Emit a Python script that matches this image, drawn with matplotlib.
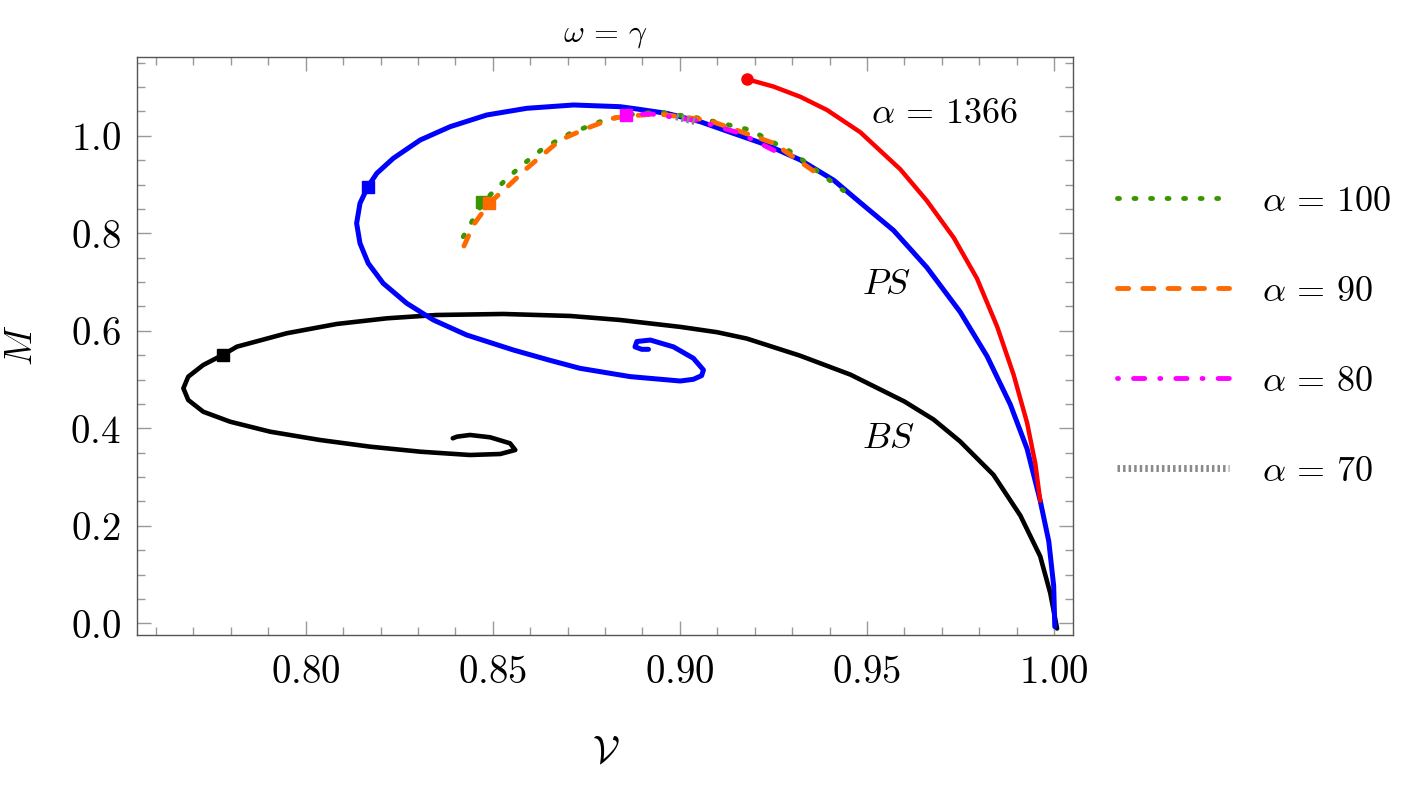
import matplotlib
matplotlib.use('Agg')
import matplotlib.pyplot as plt
from matplotlib.ticker import MultipleLocator, FuncFormatter
from matplotlib.lines import Line2D

plt.rcParams['mathtext.fontset'] = 'cm'
plt.rcParams['font.family'] = 'serif'

# boson star branch (BS), from inner spiral end out to the origin
bs_x = [0.8393, 0.8404, 0.8439, 0.8493, 0.8546, 0.8560, 0.8520, 0.8439, 0.8306, 0.8172, 0.8038,
        0.7905, 0.7798, 0.7726, 0.7686, 0.7673, 0.7686, 0.7726, 0.7778, 0.7816, 0.7949, 0.8083,
        0.8217, 0.8350, 0.8528, 0.8707, 0.8840, 0.9001, 0.9100, 0.9179, 0.9321, 0.9456, 0.9600,
        0.9678, 0.9749, 0.9838, 0.9910, 0.9963, 0.9990, 1.0008]
bs_y = [0.3795, 0.3828, 0.3863, 0.3815, 0.3692, 0.3555, 0.3473, 0.3452, 0.3520, 0.3623, 0.3760,
        0.3930, 0.4135, 0.4340, 0.4580, 0.4820, 0.5059, 0.5298, 0.5504, 0.5674, 0.5949, 0.6140,
        0.6256, 0.6324, 0.6345, 0.6304, 0.6222, 0.6080, 0.5970, 0.5840, 0.5490, 0.5100, 0.4550,
        0.4180, 0.3730, 0.3046, 0.2209, 0.1374, 0.0615, -0.0107]

# Proca star branch (PS), from the origin into its spiral
ps_x = [1.0002, 0.9999, 0.9986, 0.9963, 0.9928, 0.9883, 0.9821, 0.9749, 0.9660, 0.9571, 0.9482,
        0.9411, 0.9322, 0.9233, 0.9143, 0.9054, 0.8965, 0.8876, 0.8840, 0.8716, 0.8591, 0.8484,
        0.8386, 0.8306, 0.8234, 0.8190, 0.8166, 0.8145, 0.8136, 0.8145, 0.8167, 0.8207, 0.8270,
        0.8341, 0.8430, 0.8555, 0.8650, 0.8733, 0.8867, 0.9001, 0.9036, 0.9058, 0.9063, 0.9036,
        0.8983, 0.8921, 0.8885, 0.8880, 0.8898, 0.8916]
ps_y = [-0.0070, 0.0767, 0.1678, 0.2515, 0.3577, 0.4490, 0.5477, 0.6388, 0.7300, 0.8060, 0.8630,
        0.9090, 0.9504, 0.9810, 1.0050, 1.0290, 1.0460, 1.0560, 1.0597, 1.0632, 1.0564, 1.0427,
        1.0187, 0.9914, 0.9538, 0.9231, 0.8956, 0.8615, 0.8205, 0.7795, 0.7385, 0.6974, 0.6564,
        0.6222, 0.5914, 0.5606, 0.5400, 0.5230, 0.5060, 0.4970, 0.5005, 0.5080, 0.5196, 0.5436,
        0.5670, 0.5810, 0.5780, 0.5670, 0.5620, 0.5620]

# alpha = 1366
a1366_x = [0.9180, 0.9250, 0.9322, 0.9393, 0.9482, 0.9589, 0.9660, 0.9732, 0.9794, 0.9848,
           0.9892, 0.9928, 0.9950, 0.9963]
a1366_y = [1.1160, 1.1010, 1.0800, 1.0530, 1.0074, 0.9313, 0.8668, 0.7908, 0.7073, 0.6084,
           0.5097, 0.4109, 0.3274, 0.2515]

a100_x = [0.8421, 0.8462, 0.8475, 0.8515, 0.8573, 0.8635, 0.8707, 0.8787, 0.8860, 0.8939,
          0.9054, 0.9188, 0.9304, 0.9447]
a100_y = [0.7930, 0.8478, 0.8649, 0.8956, 0.9366, 0.9744, 1.0051, 1.0290, 1.0430, 1.0490,
          1.0360, 1.0120, 0.9640, 0.8820]

a90_x = [0.8423, 0.8448, 0.8490, 0.8537, 0.8591, 0.8680, 0.8751, 0.8822, 0.8857, 0.8939,
         0.9076, 0.9250, 0.9366]
a90_y = [0.7740, 0.8170, 0.8615, 0.8940, 0.9333, 0.9914, 1.0154, 1.0360, 1.0400, 1.0450,
         1.0320, 0.9850, 0.9230]

a80_x = [0.8857, 0.8921, 0.9054, 0.9161, 0.9259]
a80_y = [1.0430, 1.0450, 1.0300, 1.0050, 0.9670]

a70_x = [0.8990, 0.9041]
a70_y = [1.0390, 1.0290]

# square markers (stability points) and the red end dot
sq_x = {'bs': 0.7778, 'ps': 0.8166, 'a100': 0.8471, 'a90': 0.8490, 'a80': 0.8857}
sq_y = {'bs': 0.5504, 'ps': 0.8956, 'a100': 0.8650, 'a90': 0.8615, 'a80': 1.0430}
dot_x, dot_y = 0.9180, 1.1160

GREEN = '#3a9600'
ORANGE = '#ff6a00'
MAGENTA = '#ff00ff'
GRAY = '#8a8a8a'

fig = plt.figure(figsize=(14.22, 7.85), dpi=100)
ax = fig.add_axes([0.0966, 0.1911, 0.6578, 0.7359])

solid = dict(solid_joinstyle='round', solid_capstyle='round')
ax.plot(bs_x, bs_y, color='black', lw=3.3, zorder=2, **solid)
ax.plot(ps_x, ps_y, color='blue', lw=3.6, zorder=3, **solid)
ax.plot(a1366_x, a1366_y, color='red', lw=3.2, zorder=3, **solid)

ax.plot(a100_x, a100_y, color=GREEN, lw=3.5, dashes=(0.4, 3.0), dash_capstyle='round', zorder=4)
ax.plot(a90_x, a90_y, color=ORANGE, lw=3.5, dashes=(2.3, 2.9), dash_capstyle='round', zorder=5)
ax.plot(a80_x, a80_y, color=MAGENTA, lw=3.5, dashes=(0.2, 3.1, 2.3, 3.1), dash_capstyle='round', zorder=6)
ax.plot(a70_x, a70_y, color=GRAY, lw=5.0, dashes=(0.36, 0.44), dash_capstyle='butt', zorder=7)

ax.plot(sq_x['bs'], sq_y['bs'], 's', color='black', ms=8, zorder=8)
ax.plot(sq_x['ps'], sq_y['ps'], 's', color='blue', ms=8, zorder=8)
ax.plot(sq_x['a100'], sq_y['a100'], 's', color=GREEN, ms=8, zorder=8)
ax.plot(sq_x['a90'], sq_y['a90'], 's', color=ORANGE, ms=8, zorder=9)
ax.plot(sq_x['a80'], sq_y['a80'], 's', color=MAGENTA, ms=8, zorder=9)
ax.plot(dot_x, dot_y, 'o', color='red', ms=8, zorder=9)

ax.set_xlim(0.755, 1.005)
ax.set_ylim(-0.024, 1.161)

ax.xaxis.set_major_locator(MultipleLocator(0.05))
ax.xaxis.set_minor_locator(MultipleLocator(0.01))
ax.yaxis.set_major_locator(MultipleLocator(0.2))
ax.yaxis.set_minor_locator(MultipleLocator(0.05))
ax.xaxis.set_major_formatter(FuncFormatter(lambda v, p: r'$%.2f$' % v))
ax.yaxis.set_major_formatter(FuncFormatter(lambda v, p: r'$%.1f$' % (0.0 if abs(v) < 1e-9 else v)))

ax.tick_params(which='both', direction='in', top=True, right=True, color='#999999', width=1.0)
ax.tick_params(which='major', length=10, labelsize=28)
ax.tick_params(axis='x', which='major', pad=14)
ax.tick_params(axis='y', which='major', pad=12)
ax.tick_params(which='minor', length=6)
for s in ax.spines.values():
    s.set_color('#555555')
    s.set_linewidth(1.0)

ax.text(0.951, 1.047, r'$\alpha\,=\,1366$', fontsize=26, va='center', ha='left')
ax.text(0.9487, 0.695, r'$PS$', fontsize=26, va='center', ha='left')
ax.text(0.9487, 0.380, r'$BS$', fontsize=26, va='center', ha='left')

fig.text(605 / 1422, 1 - 34 / 785, r'$\omega\,=\,\gamma$', fontsize=23, ha='center', va='center')
fig.text(22 / 1422, 1 - 345 / 785, r'$M$', fontsize=27, rotation=90, ha='center', va='center')
fig.text(606 / 1422, 1 - 752 / 785, r'$\mathcal{V}$', fontsize=28, ha='center', va='center')

handles = [
    Line2D([], [], color=GREEN, lw=3.5, dashes=(0.4, 3.0), dash_capstyle='round'),
    Line2D([], [], color=ORANGE, lw=3.5, dashes=(2.3, 2.9), dash_capstyle='round'),
    Line2D([], [], color=MAGENTA, lw=3.5, dashes=(0.2, 3.1, 2.3, 3.1), dash_capstyle='round'),
    Line2D([], [], color=GRAY, lw=5.0, dashes=(0.36, 0.44), dash_capstyle='butt'),
]
labels = [r'$\alpha\,=\,100$', r'$\alpha\,=\,90$', r'$\alpha\,=\,80$', r'$\alpha\,=\,70$']
fig.legend(handles, labels, loc='upper left', bbox_to_anchor=(1099 / 1422, 1 - 166 / 785),
           frameon=False, fontsize=26, handlelength=3.1, handletextpad=0.92, labelspacing=1.55,
           borderpad=0.0)

fig.savefig('out.png', dpi=100)
